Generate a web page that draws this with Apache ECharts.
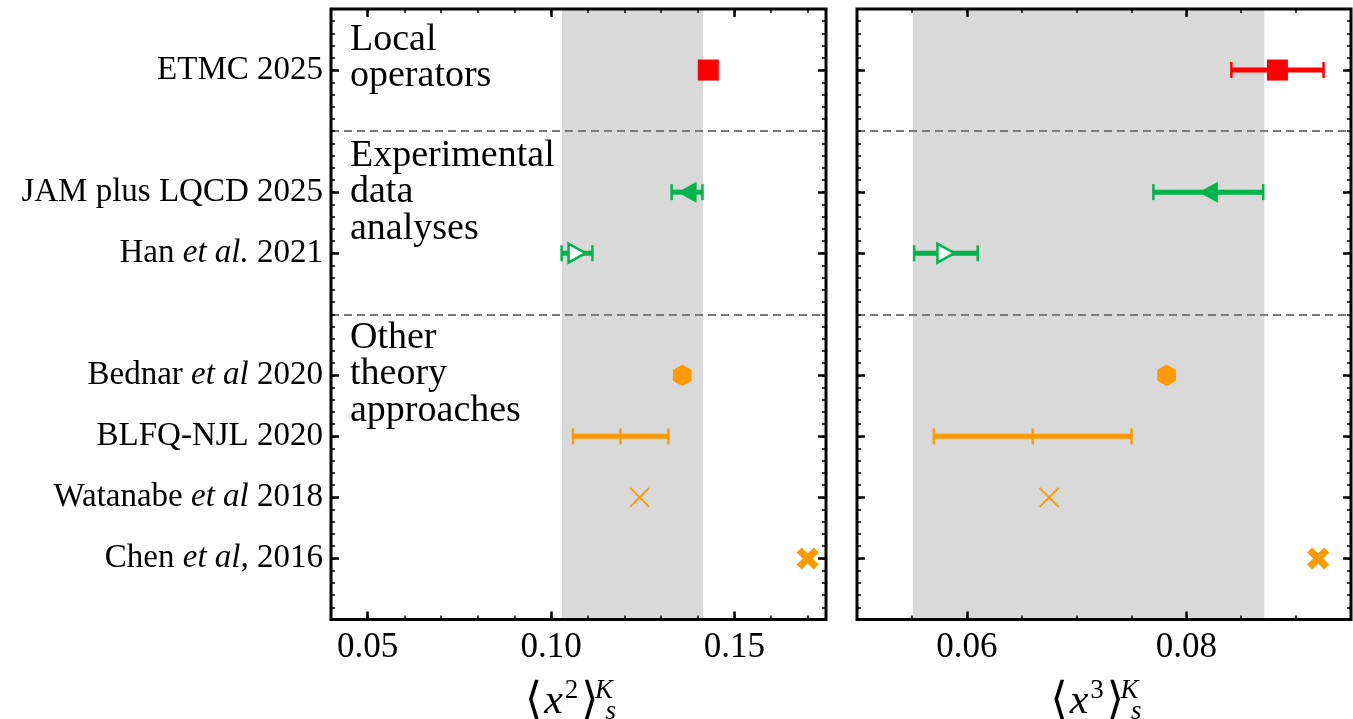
<!DOCTYPE html>
<html><head><meta charset="utf-8">
<script src="https://cdn.jsdelivr.net/npm/echarts@6/dist/echarts.min.js"></script>
<style>html,body{margin:0;padding:0;background:#fff}#c{width:1353px;height:719px}</style>
</head><body><div id="c"></div>
<script>
// ---- data ----
const categories = ['ETMC 2025', 'JAM plus LQCD 2025', 'Han *et al.* 2021', 'Bednar *et al* 2020', 'BLFQ-NJL 2020', 'Watanabe *et al* 2018', 'Chen *et al,* 2016'];
const rowPositions = [0, 2, 3, 5, 6, 7, 8];
const groupDividers = [1, 4];
const groupNotes = ['Local\noperators', 'Experimental\ndata\nanalyses', 'Other\ntheory\napproaches'];
const x2Ticks = [0.05, 0.10, 0.15];
const x3Ticks = [0.06, 0.08];
const x2Values = [0.1429, 0.1371, 0.1071, 0.1358, 0.1190, 0.1242, 0.1700];
const x2Errors = [0, 0.0042, 0.0042, 0, 0.0130, 0, 0];
const x3Values = [0.0883, 0.0820, 0.0581, 0.0782, 0.0660, 0.0675, 0.0920];
const x3Errors = [0.0042, 0.0050, 0.0029, 0, 0.0090, 0, 0];
const x2Band = [0.103, 0.1415];
const x3Band = [0.0551, 0.0871];

// ---- styling ----
const FONT = 'Liberation Serif';
const RED = '#ff0000', GREEN = '#00b34a', ORANGE = '#ff9900';
const rowColors = [RED, GREEN, GREEN, ORANGE, ORANGE, ORANGE, ORANGE];
const rowMarkers = ['square', 'triLeft', 'triRightOpen', 'hexagon', 'vbar', 'thinX', 'boldX'];

const panels = [
  {left: 331, width: 495, min: 0.04, max: 0.175, minorStep: 0.01, ticks: x2Ticks, values: x2Values, errors: x2Errors, band: x2Band, pow: '2', labels: true},
  {left: 857, width: 494, min: 0.05, max: 0.095, minorStep: 0.005, ticks: x3Ticks, values: x3Values, errors: x3Errors, band: x3Band, pow: '3', labels: false}
];
const TOP = 9, HEIGHT = 610.5;

function richLabel(txt) {
  return txt.split('*').map((s, i) => s ? (i % 2 ? '{i|' + s + '}' : '{r|' + s + '}') : '').join('');
}

function errItem(params, api) {
  const v = api.value(0), y = api.value(1), e = api.value(2), idx = api.value(3);
  if (!e) return null;
  const col = rowColors[idx];
  const p1 = api.coord([v - e, y]), p2 = api.coord([v + e, y]);
  return {type: 'group', children: [
    {type: 'line', shape: {x1: p1[0], y1: p1[1], x2: p2[0], y2: p2[1]}, style: {stroke: col, lineWidth: 5}},
    {type: 'line', shape: {x1: p1[0], y1: p1[1] - 8, x2: p1[0], y2: p1[1] + 8}, style: {stroke: col, lineWidth: 2.5}},
    {type: 'line', shape: {x1: p2[0], y1: p2[1] - 8, x2: p2[0], y2: p2[1] + 8}, style: {stroke: col, lineWidth: 2.5}}
  ]};
}

function markerItem(params, api) {
  const idx = api.value(2);
  const c = api.coord([api.value(0), api.value(1)]);
  const cx = c[0], cy = c[1], col = rowColors[idx];
  switch (rowMarkers[idx]) {
    case 'square':
      return {type: 'rect', shape: {x: cx - 10.5, y: cy - 10.5, width: 21, height: 21}, style: {fill: col}};
    case 'triLeft':
      return {type: 'polygon', shape: {points: [[cx - 9.5, cy], [cx + 9.5, cy - 10.5], [cx + 9.5, cy + 10.5]]}, style: {fill: col}};
    case 'triRightOpen':
      return {type: 'polygon', shape: {points: [[cx + 8.5, cy], [cx - 8.5, cy - 9.5], [cx - 8.5, cy + 9.5]]}, style: {fill: '#fff', stroke: col, lineWidth: 2.5}};
    case 'hexagon': {
      const pts = [];
      for (let k = 0; k < 6; k++) { const a = (-90 + 60 * k) * Math.PI / 180; pts.push([cx + 10.8 * Math.cos(a), cy + 10.8 * Math.sin(a)]); }
      return {type: 'polygon', shape: {points: pts}, style: {fill: col}};
    }
    case 'vbar':
      return {type: 'line', shape: {x1: cx, y1: cy - 8, x2: cx, y2: cy + 8}, style: {stroke: col, lineWidth: 2.5}};
    case 'thinX':
      return {type: 'group', children: [
        {type: 'line', shape: {x1: cx - 9.5, y1: cy - 9.5, x2: cx + 9.5, y2: cy + 9.5}, style: {stroke: col, lineWidth: 2}},
        {type: 'line', shape: {x1: cx - 9.5, y1: cy + 9.5, x2: cx + 9.5, y2: cy - 9.5}, style: {stroke: col, lineWidth: 2}}
      ]};
    case 'boldX': {
      const s = 11;
      const u = [[-1, -0.55], [-0.55, -1], [0, -0.45], [0.55, -1], [1, -0.55], [0.45, 0], [1, 0.55], [0.55, 1], [0, 0.45], [-0.55, 1], [-1, 0.55], [-0.45, 0]];
      return {type: 'polygon', shape: {points: u.map(p => [cx + p[0] * s, cy + p[1] * s])}, style: {fill: col}};
    }
  }
  return null;
}

const grids = [], xAxes = [], yAxes = [], series = [];
panels.forEach((p, pi) => {
  grids.push({left: p.left, top: TOP, width: p.width, height: HEIGHT, show: true, borderColor: '#000', borderWidth: 3,
    backgroundColor: 'transparent', z: 10, containLabel: false, outerBoundsMode: 'none'});
  const minorTick = {show: true, inside: true, length: 4, lineStyle: {color: '#000', width: 1.5}};
  const majorTick = (vals) => ({show: true, inside: true, length: 8, customValues: vals, lineStyle: {color: '#000', width: 2.5}});
  const baseX = {type: 'value', gridIndex: pi, min: p.min, max: p.max, z: 10, axisLine: {show: false, onZero: false}, splitLine: {show: false}};
  xAxes.push(Object.assign({}, baseX, {position: 'bottom', interval: p.minorStep, axisTick: minorTick, axisLabel: {show: false}}));
  xAxes.push(Object.assign({}, baseX, {
    position: 'bottom', axisTick: majorTick(p.ticks),
    axisLabel: {customValues: p.ticks, formatter: v => v.toFixed(2), fontFamily: FONT, fontSize: 35, color: '#000', margin: 11},
    name: '{a|⟨}{x|x}{p|' + p.pow + '}{b|⟩}{k|K}{s|s}', nameLocation: 'middle', nameGap: 58,
    nameTextStyle: {color: '#000', rich: {
      a: {fontFamily: 'DejaVu Serif', fontSize: 44, lineHeight: 48, color: '#000', padding: [0, 1, 0, 0]},
      b: {fontFamily: 'DejaVu Serif', fontSize: 44, lineHeight: 48, color: '#000', padding: [0, 1, 0, 0]},
      x: {fontFamily: FONT, fontStyle: 'italic', fontSize: 42, lineHeight: 48, color: '#000', padding: [0, 1, 0, 1]},
      p: {fontFamily: FONT, fontSize: 27, lineHeight: 26, verticalAlign: 'top', color: '#000', padding: [0, 3, 0, 1]},
      k: {fontFamily: FONT, fontStyle: 'italic', fontSize: 27, lineHeight: 26, verticalAlign: 'top', color: '#000', width: 1, padding: [0, 0, 0, 4]},
      s: {fontFamily: FONT, fontStyle: 'italic', fontSize: 27, lineHeight: 26, verticalAlign: 'bottom', color: '#000', padding: [0, 16, 0, 1]}
    }}
  }));
  xAxes.push(Object.assign({}, baseX, {position: 'top', interval: p.minorStep, axisTick: minorTick, axisLabel: {show: false}}));
  xAxes.push(Object.assign({}, baseX, {position: 'top', axisTick: majorTick(p.ticks), axisLabel: {show: false}}));

  const baseY = {type: 'value', gridIndex: pi, min: -1, max: 9, inverse: true, z: 10, axisLine: {show: false, onZero: false}, splitLine: {show: false}};
  yAxes.push(Object.assign({}, baseY, {position: 'left', interval: 0.2, axisTick: minorTick, axisLabel: {show: false}}));
  yAxes.push(Object.assign({}, baseY, {
    position: 'left', axisTick: majorTick(rowPositions),
    axisLabel: p.labels ? {
      customValues: rowPositions, margin: 8,
      formatter: v => { const i = rowPositions.indexOf(Math.round(v)); return i < 0 ? '' : richLabel(categories[i]); },
      rich: {
        r: {fontFamily: FONT, fontSize: 33, color: '#000'},
        i: {fontFamily: FONT, fontSize: 33, fontStyle: 'italic', color: '#000'}
      }
    } : {show: false}
  }));
  yAxes.push(Object.assign({}, baseY, {position: 'right', interval: 0.2, axisTick: minorTick, axisLabel: {show: false}}));
  yAxes.push(Object.assign({}, baseY, {position: 'right', axisTick: majorTick(rowPositions), axisLabel: {show: false}}));

  const xi = pi * 4, yi = pi * 4;
  series.push({
    type: 'scatter', xAxisIndex: xi, yAxisIndex: yi, data: [], z: 1, silent: true,
    markArea: {silent: true, itemStyle: {color: '#d9d9d9', opacity: 1}, label: {show: false},
      data: [[{xAxis: p.band[0]}, {xAxis: p.band[1]}]]}
  });
  series.push({
    type: 'scatter', xAxisIndex: xi, yAxisIndex: yi, data: [], z: 2, silent: true,
    markLine: {silent: true, symbol: ['none', 'none'], label: {show: false},
      lineStyle: {color: '#7a7a7a', width: 2.2, type: [8, 5]},
      data: groupDividers.map(d => ({yAxis: d}))}
  });
  series.push({
    type: 'custom', xAxisIndex: xi, yAxisIndex: yi, z: 3, silent: true,
    renderItem: errItem, encode: {x: 0, y: 1},
    data: p.values.map((v, i) => [v, rowPositions[i], p.errors[i], i])
  });
  series.push({
    type: 'custom', xAxisIndex: xi, yAxisIndex: yi, z: 4, silent: true,
    renderItem: markerItem, encode: {x: 0, y: 1},
    data: p.values.map((v, i) => [v, rowPositions[i], i])
  });
});

const chart = echarts.init(document.getElementById('c'), null, {renderer: 'canvas'});
chart.setOption({
  animation: false,
  backgroundColor: '#fff',
  grid: grids, xAxis: xAxes, yAxis: yAxes, series: series,
  graphic: groupNotes.map((t, i) => ({
    type: 'text', left: 350, top: [21, 137, 319][i], z: 20,
    style: {text: t, font: '38px "Liberation Serif"', lineHeight: 36.5, fill: '#000'}
  }))
});
</script>
</body></html>
